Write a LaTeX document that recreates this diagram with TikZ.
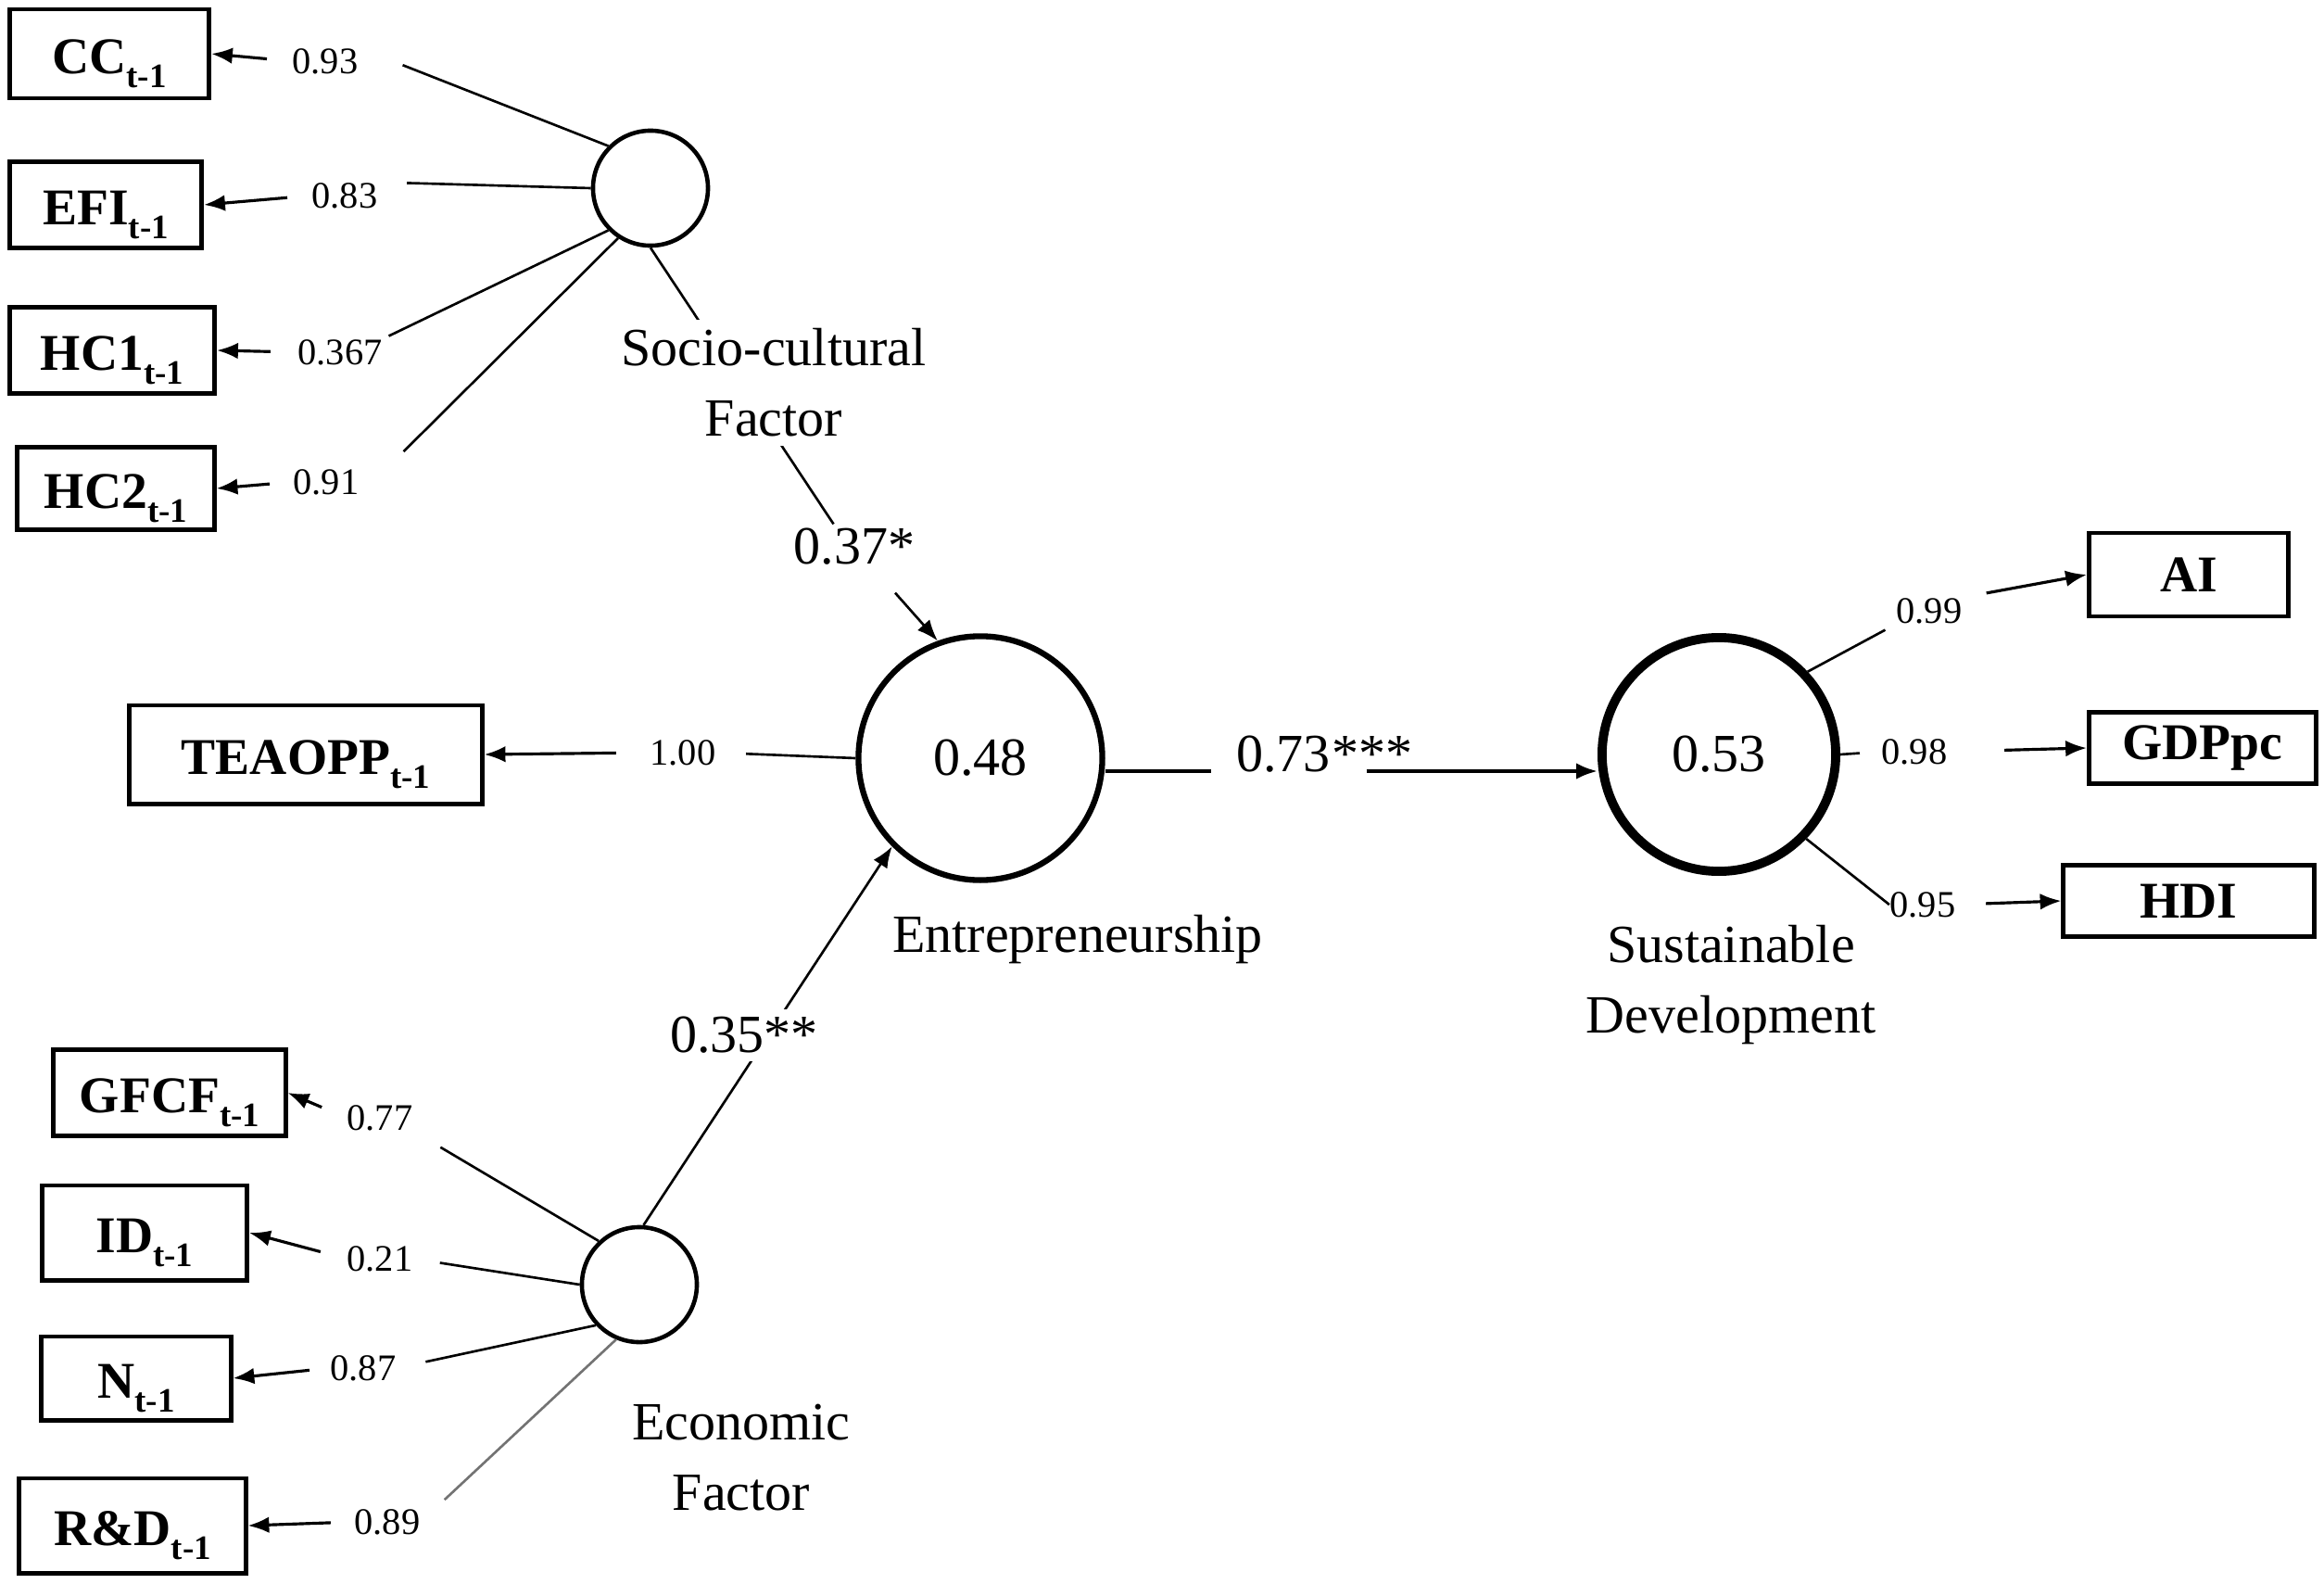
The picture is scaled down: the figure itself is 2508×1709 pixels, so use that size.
\documentclass[tikz,border=0pt]{standalone}
\usepackage{fontspec}
\setmainfont{Liberation Serif}
\usetikzlibrary{arrows.meta}
\newcommand\tsub{\raisebox{-4pt}{\fontsize{10.5}{10.5}\selectfont t-1}}
\begin{document}
\begin{tikzpicture}[x=0.01cm,y=-0.01cm,
  box/.style={draw, line width=1.4pt, font=\fontsize{15.8}{19}\selectfont\bfseries, inner sep=0pt},
  subbox/.style={box, text height=16.5pt, text depth=4pt},
  coef/.style={inner sep=0pt, font=\fontsize{11.5}{13}\selectfont},
  big/.style={inner sep=0pt, font=\fontsize{16.5}{21.6}\selectfont},
  lat/.style={circle, draw, inner sep=0pt},
  ln/.style={line width=0.75pt},
  tip/.style={-{Latex[length=6.5pt,width=5pt]}},
  arr/.style={line width=0.9pt, tip},
]
\useasboundingbox (0,0) rectangle (2508,1709);

% indicator boxes
\node[subbox, minimum width=2.15cm, minimum height=0.96cm] (cc) at (118,58) {CC\tsub};
\node[subbox, minimum width=2.07cm, minimum height=0.93cm] (efi) at (114,221) {EFI\tsub};
\node[subbox, minimum width=2.21cm, minimum height=0.93cm] (hc1) at (121,378) {HC1\tsub};
\node[subbox, minimum width=2.12cm, minimum height=0.89cm] (hc2) at (125,527) {HC2\tsub};
\node[subbox, minimum width=3.80cm, minimum height=1.06cm] (teaopp) at (330,814) {TEAOPP\tsub};
\node[subbox, minimum width=2.50cm, minimum height=0.93cm] (gfcf) at (183,1179) {GFCF\tsub};
\node[subbox, minimum width=2.21cm, minimum height=1.02cm] (id) at (156,1330) {ID\tsub};
\node[subbox, minimum width=2.04cm, minimum height=0.90cm] (n) at (147,1487) {N\tsub};
\node[subbox, minimum width=2.44cm, minimum height=1.02cm] (rd) at (143,1646) {R\&D\tsub};
\node[box, minimum width=2.15cm, minimum height=0.90cm] (ai) at (2362,620) {AI};
\node[box, minimum width=2.45cm, minimum height=0.77cm] (gdp) at (2377,807) {GDPpc};
\node[box, minimum width=2.70cm, minimum height=0.77cm] (hdi) at (2362,972) {HDI};

% latent variables
\node[lat, line width=1.3pt, minimum size=1.24cm] (sc) at (702,203) {};
\node[lat, big, line width=1.8pt, minimum size=2.63cm] (ent) at (1058,818) {0.48};
\node[lat, big, line width=2.8pt, minimum size=2.52cm] (sd) at (1855,814) {0.53};
\node[lat, line width=1.3pt, minimum size=1.24cm] (ef) at (690,1386) {};

% coefficient labels
\node[coef] (l93) at (351,66) {0.93};
\node[coef] (l83) at (372,211) {0.83};
\node[coef] (l367) at (367,380) {0.367};
\node[coef] (l91) at (352,520) {0.91};
\node[coef] (l100) at (737,812) {1.00};
\node[coef] (l99) at (2082,659) {0.99};
\node[coef] (l98) at (2066,811) {0.98};
\node[coef] (l95) at (2075,976) {0.95};
\node[coef] (l77) at (410,1206) {0.77};
\node[coef] (l21) at (410,1358) {0.21};
\node[coef] (l87) at (392,1476) {0.87};
\node[coef] (l89) at (418,1642) {0.89};

% path labels
\node[big] (p37) at (922,590) {0.37*};
\node[big, anchor=base] (p73) at (1385,832) {0.73};
\node[big, anchor=base west] (p73s) at (p73.base east) {***};

% socio-cultural indicators
\draw[ln, shorten >=5.1mm] (sc.135) -- (l93.north east);
\draw[arr, shorten <=2.7mm] (l93.west) -- (cc.east);
\draw[ln, shorten >=3.1mm] (sc.180) -- (l83.north east);
\draw[arr, shorten <=2.6mm] (l83.west) -- (efi.east);
\draw[ln, shorten >=0.7mm] (sc.225) -- (l367.north east);
\draw[arr, shorten <=2.9mm] (l367.west) -- (hc1.east);
\draw[ln, shorten >=6.7mm] (sc.237) -- (l91.south east);
\draw[arr, shorten <=2.5mm] (l91.west) -- (hc2.east);

% socio-cultural -> entrepreneurship
\draw[ln, shorten >=0.5mm] (sc.south) -- (p37.134);
\node[big, fill=white, inner sep=1mm, align=center] (sclab) at (835,413) {Socio-cultural\\Factor};
\draw[ln, tip, shorten <=3.9mm] (p37) -- (ent.110);

% entrepreneurship indicator
\draw[ln, shorten >=3.2mm] (ent.west) -- (l100.east);
\draw[arr, shorten <=3.6mm] (l100.west) -- (teaopp.east);

% entrepreneurship -> sustainable development
\draw[line width=1.1pt, shorten >=2.7mm] (ent.east |- p73.base) -- (p73.base west);
\draw[line width=1.1pt, tip, shorten <=3.8mm] (p73.base east) -- (sd.west |- p73.base);

% sustainable development indicators
\draw[ln, shorten >=1.3mm] (sd.43) -- (l99.south west);
\draw[arr, shorten <=2.6mm] (l99.north east) -- (ai.west);
\draw[ln, shorten >=2.3mm] (sd.east) -- (l98.west);
\draw[arr, shorten <=6.1mm] (l98.east) -- (gdp.west);
\draw[ln] (sd.316) -- (l95.west);
\draw[arr, shorten <=3.2mm] (l95.east) -- (hdi.west);

% economic indicators
\draw[ln, shorten >=3.4mm] (ef.133) -- (l77.south east);
\draw[arr, shorten <=2.9mm] (l77.west) -- (gfcf.east);
\draw[ln, shorten >=2.9mm] (ef.180) -- (l21.east);
\draw[arr, shorten <=2.9mm] (l21.west) -- (id.east);
\draw[ln, shorten >=3.2mm] (ef.223) -- (l87.east);
\draw[arr, shorten <=2.2mm] (l87.west) -- (n.east);
\draw[ln, black!55, shorten >=3.5mm] (ef.247) -- (l89.east);
\draw[arr, shorten <=2.5mm] (l89.west) -- (rd.east);

% economic -> entrepreneurship
\draw[ln, tip] (ef.86) -- (ent.225);
\node[big, fill=white, inner sep=0.8mm] (p35) at (803,1117) {0.35**};

% latent labels
\node[big] (entlab) at (1163,1014) {Entrepreneurship};
\node[big, align=center] (sdlab) at (1868,1063) {Sustainable\\Development};
\node[big, align=center] (eflab) at (800,1573) {Economic\\Factor};
\end{tikzpicture}
\end{document}
